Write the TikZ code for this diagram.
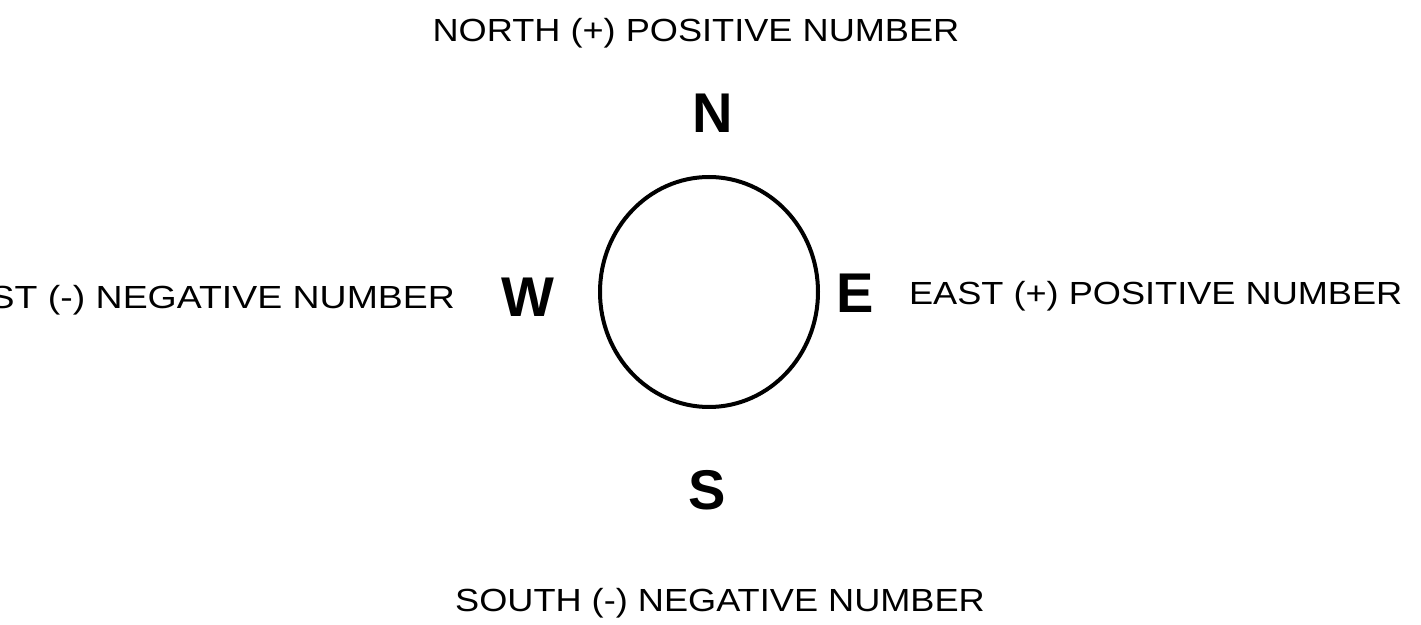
\documentclass[tikz,border=0pt]{standalone}
\usepackage{fontspec}
\setmainfont{Liberation Sans}
\newfontfamily\wordfont{Liberation Sans}[FakeStretch=1.13]
\newfontfamily\widewordfont{Liberation Sans}[FakeStretch=1.17]
\usetikzlibrary{shapes.geometric}
\begin{document}
\begin{tikzpicture}[x=0.5pt,y=-0.5pt,
    letter/.style={font=\fontsize{28}{30}\selectfont\bfseries},
    words/.style={font=\wordfont\fontsize{16}{18}\selectfont},
    widewords/.style={font=\widewordfont\fontsize{16}{18}\selectfont},
    ring/.style={draw,ellipse,line width=2pt,minimum width=109pt,minimum height=115pt}]
            \useasboundingbox (0,0) rectangle (1421,625);
            \clip (0,0) rectangle (1421,625);
            \node[ring] (O) at (709,292) {};
            \node[letter] (N) at (713,113) {N};
            \node[letter] (W) at (528,297) {W};
            \node[letter] (E) at (855,293) {E};
            \node[letter] (S) at (707,490) {S};
            \node[words] (north) at (696,33) {NORTH (+) POSITIVE NUMBER};
            \node[words,anchor=west] (east) at (902,296) {EAST (+) POSITIVE NUMBER};
            \node[widewords,anchor=east] (west) at (462,300) {WEST (-) NEGATIVE NUMBER};
            \node[words] (south) at (720,603) {SOUTH (-) NEGATIVE NUMBER};
            \end{tikzpicture}
\end{document}
